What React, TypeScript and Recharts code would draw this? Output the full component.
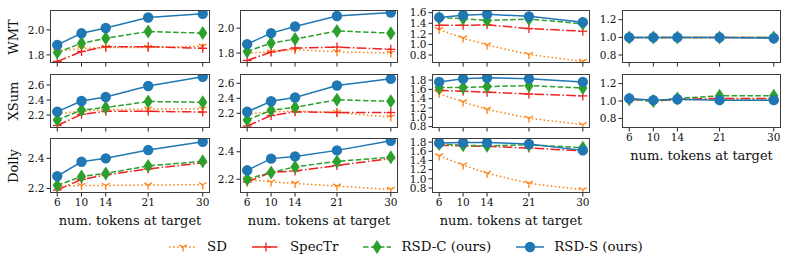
import React from 'react';
import { LineChart, Line, XAxis, YAxis } from 'recharts';

const tokens = [6, 10, 14, 21, 30];

// one small set of arrays per panel (sd, specTr, rsdC, rsdS)
const wmtA = { sd: [1.83, 1.85, 1.86, 1.86, 1.87], specTr: [1.747, 1.827, 1.866, 1.866, 1.853], rsdC: [1.82, 1.893, 1.933, 1.987, 1.975], rsdS: [1.88, 1.973, 2.016, 2.1, 2.13] };
const wmtB = { sd: [1.8, 1.81, 1.827, 1.81, 1.8], specTr: [1.74, 1.808, 1.84, 1.848, 1.83], rsdC: [1.813, 1.88, 1.912, 1.978, 1.96], rsdS: [1.872, 1.96, 2.013, 2.098, 2.125] };
const wmtC = { sd: [1.28, 1.12, 0.99, 0.81, 0.68], specTr: [1.36, 1.36, 1.37, 1.3, 1.25], rsdC: [1.5, 1.49, 1.45, 1.48, 1.39], rsdS: [1.51, 1.55, 1.57, 1.53, 1.42] };
const wmtD = { sd: [1.0, 1.0, 1.0, 1.0, 1.0], specTr: [1.0, 1.0, 1.0, 1.0, 1.0], rsdC: [1.0, 1.0, 1.0, 1.0, 1.0], rsdS: [1.0, 1.0, 1.0, 1.0, 0.99] };

const xsumA = { sd: [2.22, 2.25, 2.27, 2.28, 2.28], specTr: [2.06, 2.21, 2.25, 2.25, 2.24], rsdC: [2.133, 2.267, 2.3, 2.38, 2.37], rsdS: [2.245, 2.387, 2.44, 2.587, 2.71] };
const xsumB = { sd: [2.19, 2.22, 2.23, 2.21, 2.15], specTr: [2.03, 2.17, 2.22, 2.21, 2.21], rsdC: [2.11, 2.24, 2.28, 2.38, 2.36], rsdS: [2.22, 2.36, 2.41, 2.57, 2.66] };
const xsumC = { sd: [1.51, 1.33, 1.17, 0.98, 0.84], specTr: [1.58, 1.56, 1.54, 1.5, 1.46], rsdC: [1.64, 1.64, 1.66, 1.68, 1.63], rsdS: [1.76, 1.83, 1.85, 1.83, 1.76] };
const xsumD = { sd: [1.02, 1.0, 1.01, 1.02, 1.02], specTr: [1.02, 1.0, 1.02, 1.03, 1.03], rsdC: [1.02, 1.0, 1.03, 1.06, 1.06], rsdS: [1.03, 1.01, 1.02, 1.01, 1.01] };

const dollyA = { sd: [2.215, 2.22, 2.22, 2.223, 2.225], specTr: [2.19, 2.26, 2.29, 2.33, 2.37], rsdC: [2.22, 2.28, 2.3, 2.35, 2.38], rsdS: [2.282, 2.377, 2.4, 2.455, 2.51] };
const dollyB = { sd: [2.2, 2.18, 2.17, 2.15, 2.126], specTr: [2.18, 2.25, 2.26, 2.3, 2.35], rsdC: [2.2, 2.25, 2.29, 2.33, 2.36], rsdS: [2.265, 2.35, 2.366, 2.41, 2.48] };
const dollyC = { sd: [1.5, 1.3, 1.12, 0.9, 0.76], specTr: [1.73, 1.72, 1.71, 1.67, 1.61], rsdC: [1.76, 1.73, 1.72, 1.74, 1.68], rsdS: [1.78, 1.79, 1.79, 1.76, 1.62] };

const seriesKeys = ['sd', 'specTr', 'rsdC', 'rsdS'];
const seriesNames = ['SD', 'SpecTr', 'RSD-C (ours)', 'RSD-S (ours)'];
const rowNames = ['WMT', 'XSum', 'Dolly'];

const COLORS: Record<string, string> = { sd: '#ff7f0e', specTr: '#ee2222', rsdC: '#2ca02c', rsdS: '#1f77b4' };
const DASH: Record<string, string | undefined> = { sd: '1.5 2.5', specTr: '9.6 2.4 1.5 2.4', rsdC: '5.5 2.4', rsdS: undefined };
const MARK: Record<string, string> = { sd: 'tri', specTr: 'plus', rsdC: 'diamond', rsdS: 'circle' };

const FONT = '"DejaVu Serif", serif';
const COLS = [{ x0: 50, x1: 210 }, { x0: 240, x1: 398 }, { x0: 432, x1: 590 }, { x0: 622, x1: 781 }];
const ROWS = [{ y0: 10, y1: 63 }, { y0: 74, y1: 128 }, { y0: 138, y1: 193 }];

const panels = [
  { row: 0, col: 0, d: wmtA, domain: [1.735, 2.16], ticks: [1.8, 2.0], xl: false },
  { row: 0, col: 1, d: wmtB, domain: [1.72, 2.146], ticks: [1.8, 2.0], xl: false },
  { row: 0, col: 2, d: wmtC, domain: [0.65, 1.65], ticks: [0.8, 1.0, 1.2, 1.4, 1.6], xl: false },
  { row: 0, col: 3, d: wmtD, domain: [0.71, 1.31], ticks: [0.8, 1.0, 1.2], xl: false },
  { row: 1, col: 0, d: xsumA, domain: [2.027, 2.747], ticks: [2.2, 2.4, 2.6], xl: false },
  { row: 1, col: 1, d: xsumB, domain: [2.004, 2.724], ticks: [2.2, 2.4, 2.6], xl: false },
  { row: 1, col: 2, d: xsumC, domain: [0.77, 1.93], ticks: [0.8, 1.0, 1.2, 1.4, 1.6, 1.8], xl: false },
  { row: 1, col: 3, d: xsumD, domain: [0.69, 1.31], ticks: [0.8, 1.0, 1.2], xl: true },
  { row: 2, col: 0, d: dollyA, domain: [2.17, 2.535], ticks: [2.2, 2.4], xl: true },
  { row: 2, col: 1, d: dollyB, domain: [2.1, 2.5], ticks: [2.2, 2.4], xl: true },
  { row: 2, col: 2, d: dollyC, domain: [0.69, 1.89], ticks: [0.8, 1.0, 1.2, 1.4, 1.6, 1.8], xl: true },
];

function Marker({ kind, cx, cy, color }: { kind: string; cx: number; cy: number; color: string }) {
  if (kind === 'circle') return <circle cx={cx} cy={cy} r={5.2} fill={color} />;
  if (kind === 'diamond')
    return <polygon points={`${cx},${cy - 7} ${cx + 4.6},${cy} ${cx},${cy + 7} ${cx - 4.6},${cy}`} fill={color} />;
  if (kind === 'plus')
    return (
      <g stroke={color} strokeWidth={1.3}>
        <line x1={cx - 4.5} y1={cy} x2={cx + 4.5} y2={cy} />
        <line x1={cx} y1={cy - 4.5} x2={cx} y2={cy + 4.5} />
      </g>
    );
  return (
    <g stroke={color} strokeWidth={1.3}>
      <line x1={cx} y1={cy} x2={cx} y2={cy + 4.5} />
      <line x1={cx} y1={cy} x2={cx - 3.9} y2={cy - 2.25} />
      <line x1={cx} y1={cy} x2={cx + 3.9} y2={cy - 2.25} />
    </g>
  );
}

const YW = 36;
const MT = 8;
const MR = 8;

function Panel({ p }: { p: (typeof panels)[number] }) {
  const { x0, x1 } = COLS[p.col];
  const { y0, y1 } = ROWS[p.row];
  const xh = p.xl ? 22 : 6;
  const w = YW + (x1 - x0) + MR;
  const h = MT + (y1 - y0) + xh;
  const data = tokens.map((t, i) => {
    const o: Record<string, number> = { t };
    seriesKeys.forEach((k) => (o[k] = (p.d as any)[k][i]));
    return o;
  });
  const tickStyle = { fontFamily: FONT, fontSize: 10.5, fill: '#111' };
  return (
    <>
      <div style={{ position: 'absolute', left: x0 - YW, top: y0 - MT }}>
        <LineChart width={w} height={h} data={data} margin={{ top: MT, right: MR, left: 0, bottom: 0 }}>
          <XAxis
            dataKey="t"
            type="number"
            domain={[4.8, 31.2]}
            ticks={tokens}
            height={xh}
            tickSize={3.5}
            tickMargin={2}
            axisLine={false}
            tickLine={{ stroke: '#222' }}
            tick={tickStyle}
            tickFormatter={(v) => (p.xl ? String(v) : '')}
            interval={0}
          />
          <YAxis
            type="number"
            domain={p.domain}
            ticks={p.ticks}
            allowDataOverflow
            width={YW}
            tickSize={3.5}
            tickMargin={2}
            axisLine={false}
            tickLine={{ stroke: '#222' }}
            tick={tickStyle}
            tickFormatter={(v) => Number(v).toFixed(1)}
            interval={0}
          />
          {seriesKeys.map((k) => (
            <Line
              key={k}
              dataKey={k}
              stroke={COLORS[k]}
              strokeWidth={1.5}
              strokeDasharray={DASH[k]}
              isAnimationActive={false}
              activeDot={false}
              dot={(dp: any) => <Marker key={`${k}-${dp.index}`} kind={MARK[k]} cx={dp.cx} cy={dp.cy} color={COLORS[k]} />}
            />
          ))}
        </LineChart>
      </div>
      <div
        style={{
          position: 'absolute',
          left: x0,
          top: y0,
          width: x1 - x0,
          height: y1 - y0,
          boxSizing: 'border-box',
          border: '1.2px solid #3c3c3c',
          pointerEvents: 'none',
        }}
      />
      {p.xl && (
        <div
          style={{
            position: 'absolute',
            left: x0 - 20,
            width: x1 - x0 + 40,
            top: y1 + 20,
            textAlign: 'center',
            fontFamily: FONT,
            fontSize: 13,
            lineHeight: '16px',
            color: '#111',
            whiteSpace: 'nowrap',
          }}
        >
          num. tokens at target
        </div>
      )}
    </>
  );
}

function LegendIcon({ k }: { k: string }) {
  return (
    <svg width={28} height={14} style={{ display: 'block' }}>
      <line x1={0} y1={7} x2={28} y2={7} stroke={COLORS[k]} strokeWidth={1.5} strokeDasharray={DASH[k]} />
      <Marker kind={MARK[k]} cx={14} cy={7} color={COLORS[k]} />
    </svg>
  );
}

export default function App() {
  return (
    <div style={{ position: 'absolute', left: 0, top: 0, width: 789, height: 267, background: '#fff', overflow: 'hidden' }}>
      {panels.map((p) => (
        <Panel key={`${p.row}-${p.col}`} p={p} />
      ))}
      {rowNames.map((name, r) => (
        <div
          key={name}
          style={{
            position: 'absolute',
            left: 13,
            top: (ROWS[r].y0 + ROWS[r].y1) / 2,
            transform: 'translate(-50%, -50%) rotate(-90deg)',
            fontFamily: FONT,
            fontSize: 13,
            color: '#111',
            whiteSpace: 'nowrap',
          }}
        >
          {name}
        </div>
      ))}
      <div
        style={{
          position: 'absolute',
          left: 169,
          top: 239,
          display: 'flex',
          alignItems: 'center',
          gap: 25,
          fontFamily: FONT,
          fontSize: 13.4,
          color: '#111',
        }}
      >
        {seriesKeys.map((k, i) => (
          <div key={k} style={{ display: 'flex', alignItems: 'center', gap: 10 }}>
            <LegendIcon k={k} />
            <span style={{ whiteSpace: 'nowrap' }}>{seriesNames[i]}</span>
          </div>
        ))}
      </div>
    </div>
  );
}
